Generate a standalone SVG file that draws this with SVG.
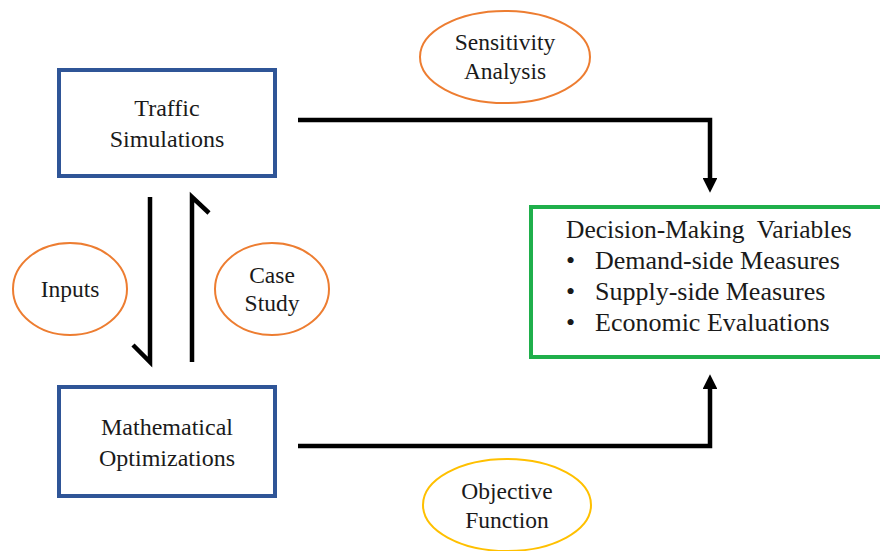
<svg xmlns="http://www.w3.org/2000/svg" width="880" height="551" viewBox="0 0 880 551">
<style>
.box{fill:#fff;stroke:#2F5597;stroke-width:4}
.green{fill:#fff;stroke:#1FAF4B;stroke-width:4}
.oval{fill:#fff;stroke:#ED7D31;stroke-width:2}
.yel{fill:#fff;stroke:#FFC000;stroke-width:2}
.ln{fill:none;stroke:#000;stroke-width:4.5}
</style>
<defs>
<marker id="ah" viewBox="0 0 10 10" refX="0" refY="5" markerWidth="3.3" markerHeight="3.3" orient="auto" markerUnits="strokeWidth">
<path d="M0,0 L10,5 L0,10 z" fill="#000"/>
</marker>
</defs>
<rect width="880" height="551" fill="#fff"/>
<g id="connectors">
<polyline class="ln" points="298,120 710,120 710,178" marker-end="url(#ah)"/>
<polyline class="ln" points="298,446 710,446 710,389" marker-end="url(#ah)"/>
<polyline class="ln" points="150,197 150,362 133,345"/>
<polyline class="ln" points="192,362 192,197 209,213"/>
</g>
<g font-family="Liberation Serif" fill="#1a1a1a" font-size="24" text-anchor="middle">
<g id="traffic">
<rect class="box" x="59" y="70" width="216" height="106"/>
<text x="167" y="116" font-family="Liberation Serif">Traffic</text>
<text x="167" y="147" font-family="Liberation Serif">Simulations</text>
</g>
<g id="math">
<rect class="box" x="59" y="387" width="216" height="109"/>
<text x="167" y="435" font-family="Liberation Serif">Mathematical</text>
<text x="167" y="466" font-family="Liberation Serif">Optimizations</text>
</g>
<g id="decision" font-size="26" text-anchor="start">
<rect class="green" x="531" y="207" width="360" height="150"/>
<text x="566" y="238" font-size="25.5" font-family="Liberation Serif" xml:space="preserve">Decision-Making  Variables</text>
<text x="566" y="269" font-family="Liberation Serif">•</text>
<text x="595" y="269" font-family="Liberation Serif">Demand-side Measures</text>
<text x="566" y="300" font-family="Liberation Serif">•</text>
<text x="595" y="300" font-family="Liberation Serif">Supply-side Measures</text>
<text x="566" y="331" font-family="Liberation Serif">•</text>
<text x="595" y="331" font-family="Liberation Serif">Economic Evaluations</text>
</g>
<g id="sensitivity" font-size="23.5">
<ellipse class="oval" cx="505" cy="57" rx="85" ry="46"/>
<text x="505" y="50" font-family="Liberation Serif">Sensitivity</text>
<text x="505" y="79" font-family="Liberation Serif">Analysis</text>
</g>
<g id="inputs" font-size="23.5">
<ellipse class="oval" cx="70" cy="289" rx="57" ry="46"/>
<text x="70" y="297" font-family="Liberation Serif">Inputs</text>
</g>
<g id="casestudy" font-size="23.5">
<ellipse class="oval" cx="272" cy="289" rx="57" ry="46"/>
<text x="272" y="283" font-family="Liberation Serif">Case</text>
<text x="272" y="311" font-family="Liberation Serif">Study</text>
</g>
<g id="objective" font-size="23.5">
<ellipse class="yel" cx="507" cy="505" rx="84" ry="46"/>
<text x="507" y="499" font-family="Liberation Serif">Objective</text>
<text x="507" y="528" font-family="Liberation Serif">Function</text>
</g>
</g>
</svg>
